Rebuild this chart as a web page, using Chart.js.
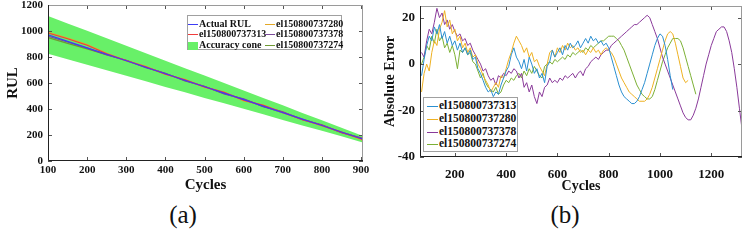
<!DOCTYPE html>
<html>
<head>
<meta charset="utf-8">
<script src="https://cdn.jsdelivr.net/npm/chart.js@4.4.1/dist/chart.umd.min.js"></script>
<style>
  body { margin: 0; width: 747px; height: 243px; background: #fff; position: relative; overflow: hidden;
         font-family: "Liberation Serif", "DejaVu Serif", serif; }
  canvas { position: absolute; top: 0; }
  #rulChart { left: 0; }
  #errChart { left: 375px; }
  .legend { position: absolute; background: #fff; border: 1px solid #a0a0a0; font-weight: bold; color: #111; box-sizing: border-box; }
  .legend .item { position: absolute; white-space: nowrap; }
  .legend .sample { display: inline-block; vertical-align: middle; margin-right: 1px; }
  #rulLegend { left: 187px; top: 15px; width: 155px; height: 35px; font-size: 10px; line-height: 11px; }
  #errLegend { left: 423px; top: 97px; width: 95px; height: 55px; font-size: 11.5px; line-height: 13px; }
  .caption { position: absolute; top: 202px; width: 40px; text-align: center; font-size: 25px; line-height: 25px; color: #111; }
</style>
</head>
<body>
<canvas id="rulChart" width="375" height="200"></canvas>
<canvas id="errChart" width="372" height="200"></canvas>
<div id="rulLegend" class="legend"></div>
<div id="errLegend" class="legend"></div>
<div class="caption" style="left:163px">(a)</div>
<div class="caption" style="left:545px">(b)</div>
<script>
// ---------- panel (a): RUL vs cycles ----------
const rulCycles = [100, 150, 200, 250, 300, 350, 400, 450, 500, 550, 600, 650, 700, 750, 800, 850, 900, 905];
const actualRul = [970, 920, 870, 821, 771, 721, 671, 621, 571, 522, 472, 422, 372, 322, 273, 223, 173, 168];
const coneUpper = [1116, 1058, 1001, 944, 887, 829, 772, 714, 657, 600, 543, 485, 428, 370, 314, 256, 199, 193];
const coneLower = [825, 782, 740, 698, 655, 613, 570, 528, 485, 444, 401, 359, 316, 274, 232, 190, 147, 143];
const rul313 = [985, 940, 890, 825, 773, 725, 668, 625, 570, 528, 468, 428, 375, 318, 275, 220, 172, 160];
const rul280 = [990, 945, 895, 828, 770, 728, 665, 628, 566, 530, 462, 430, 370, 320, 270, 225, 165, 155];
const rul378 = [960, 915, 868, 815, 775, 718, 675, 615, 575, 515, 478, 418, 378, 318, 278, 218, 178, 170];
const rul274 = [950, 905, 862, 818, 772, 722, 672, 620, 572, 520, 475, 420, 372, 322, 272, 222, 175, 165];
const rulTicksX = [100, 200, 300, 400, 500, 600, 700, 800, 900];
const rulTicksY = [0, 200, 400, 600, 800, 1000, 1200];

// ---------- panel (b): absolute error vs cycles ----------
const errCycles = [70, 80, 90, 100, 110, 120, 130, 140, 150, 160,
  170, 180, 190, 200, 210, 220, 230, 240, 250, 260,
  270, 280, 290, 300, 310, 320, 330, 340, 350, 360,
  370, 380, 390, 400, 410, 420, 430, 440, 450, 460,
  470, 480, 490, 500, 510, 520, 530, 540, 550, 560,
  570, 580, 590, 600, 610, 620, 630, 640, 650, 660,
  670, 680, 690, 700, 710, 720, 730, 740, 750, 760,
  770, 780, 790, 800, 810, 820, 830, 840, 850, 860,
  870, 880, 890, 900, 910, 920, 930, 940, 950, 960,
  970, 980, 990, 1000, 1010, 1020, 1030, 1040, 1050, 1060,
  1070, 1080, 1090, 1100, 1110, 1120, 1130, 1140, 1150, 1160,
  1170, 1180, 1190, 1200, 1210, 1220, 1230, 1240, 1250, 1260,
  1270, 1280, 1290, 1300, 1310, 1320];
const err313 = [-5, 2, 8, 12, 10, 16, 13, 17, 11, 14,
  9, 12, 8, 10, 6, 9, 5, 7, 4, 6,
  2, 3, -2, -4, -7, -10, -12, -11, -14, -12,
  -13, -9, -6, -3, -1, 4, 7, 3, 1, -2,
  2, -3, 3, 0, -4, -2, -6, -4, -8, -1,
  1, 6, 3, 5, 7, 4, 8, 6, 9, 7,
  8, 10, 7, 9, 11, 9, 12, 10, 11, 9,
  10, 8, 9, 7, 3, -1, -5, -9, -12, -14,
  -15, -16, -17, -17, -16, -14, -11, -8, -4, 0,
  4, 8, 11, 13, 12, 8, 2, -5, -11];
const err280 = [-12, -4, 0, -3, 5, 10, 8, 15, 18, 23,
  16, 19, 13, 15, 10, 12, 7, 9, 5, 7,
  3, 4, 0, -2, -5, -7, -9, -12, -10, -8,
  -10, -5, -6, -2, 2, 5, 9, 12, 10, 8,
  5, 7, 3, 5, 1, 2, -1, -3, -5, 0,
  5, 6, 3, 7, 5, 8, 6, 9, 7, 8,
  6, 7, 5, 6, 4, 6, 5, 7, 5, 6,
  4, 6, 7, 6, 5, 3, 0, -3, -6, -8,
  -10, -12, -13, -14, -15, -16, -16, -16, -15, -13,
  -10, -6, -2, 2, 6, 10, 13, 14, 13, 9,
  4, -1, -6, -8, -7];
const err378 = [5, 3, 10, 15, 13, 18, 24, 20, 22, 17,
  19, 15, 17, 14, 12, 13, 10, 11, 8, 9,
  6, 4, 2, 0, -3, -2, -5, -7, -6, -9,
  -5, -6, -4, -5, -3, -4, -2, -3, -6, -4,
  -10, -8, -12, -9, -14, -17, -12, -14, -10, -9,
  -6, -8, -7, -8, -6, -7, -5, -6, -5, -4,
  -6, -4, -3, -5, -2, -1, 1, 2, 3, 2,
  4, 5, 6, 6, 8, 9, 10, 11, 12, 13,
  14, 15, 16, 17, 17, 18, 19, 20, 21, 20,
  17, 14, 11, 7, 3, 0, -3, -6, -9, -12,
  -15, -18, -21, -23, -24, -24, -22, -19, -15, -10,
  -5, 0, 4, 8, 11, 14, 15, 16, 16, 14,
  10, 5, -2, -10, -19, -28];
const err274 = [0, 3, 8, 6, 12, 9, 15, 10, 12, 7,
  9, 5, 8, 4, -2, 6, 5, 7, 4, 5,
  1, 0, -3, -6, -4, -8, -10, -11, -12, -10,
  -13, -12, -9, -7, -8, -6, -7, -5, -4, -6,
  -3, -5, -2, -4, -1, -3, -5, -6, -1, 0,
  1, 0, 2, 1, 2, 3, 2, 4, 3, 5,
  4, 5, 6, 5, 7, 6, 8, 7, 8, 9,
  10, 10, 11, 12, 12, 12, 11, 10, 8, 6,
  3, 0, -3, -6, -9, -11, -13, -14, -15, -15,
  -14, -11, -7, -3, 1, 4, 7, 9, 11, 11,
  11, 10, 7, 3, -1, -5, -9, -13];
const errTicksX = [200, 400, 600, 800, 1000, 1200];
const errTicksY = [-40, -20, 0, 20];

const serif = '"Liberation Serif", "DejaVu Serif", serif';
Chart.defaults.font.family = serif;
Chart.defaults.color = '#111';

// pair x and y arrays into points
function pts(xs, ys) {
  return ys.map((y, i) => ({ x: xs[i], y: y }));
}

// box around the plot + short inward ticks on all four sides
const framePlugin = {
  id: 'frame',
  afterDatasetsDraw(chart, args, opts) {
    const { ctx, chartArea: a, scales } = chart;
    const L = opts.tickLen || 4;
    ctx.save();
    ctx.lineWidth = 1;
    ctx.strokeStyle = '#555';
    ctx.beginPath();
    scales.x.ticks.forEach(t => {
      const px = Math.round(scales.x.getPixelForValue(t.value)) + 0.5;
      ctx.moveTo(px, a.bottom); ctx.lineTo(px, a.bottom - L);
      ctx.moveTo(px, a.top); ctx.lineTo(px, a.top + L);
    });
    scales.y.ticks.forEach(t => {
      const py = Math.round(scales.y.getPixelForValue(t.value)) + 0.5;
      ctx.moveTo(a.left, py); ctx.lineTo(a.left + L, py);
      ctx.moveTo(a.right, py); ctx.lineTo(a.right - L, py);
    });
    ctx.stroke();
    ctx.strokeStyle = '#9a9a9a';
    ctx.strokeRect(Math.round(a.left) + 0.5, Math.round(a.top) + 0.5, Math.round(a.width) - 1, Math.round(a.height) - 1);
    ctx.strokeStyle = '#222';
    ctx.beginPath();
    ctx.moveTo(Math.round(a.left) + 0.5, Math.round(a.top));
    ctx.lineTo(Math.round(a.left) + 0.5, Math.round(a.bottom) - 0.5);
    ctx.lineTo(Math.round(a.right), Math.round(a.bottom) - 0.5);
    ctx.stroke();
    ctx.restore();
  }
};

function axis(opts) {
  return {
    type: 'linear',
    min: opts.min,
    max: opts.max,
    afterBuildTicks: s => { s.ticks = opts.ticks.map(v => ({ value: v })); },
    afterFit: s => {
      if (opts.width) s.width = opts.width;
      if (opts.height) s.height = opts.height;
      // let the layout padding alone decide where the plot box sits
      s.paddingTop = 0; s.paddingBottom = 0; s.paddingLeft = 0; s.paddingRight = 0;
    },
    grid: { display: false, drawTicks: false },
    border: { display: false },
    ticks: { padding: opts.pad, autoSkip: false, maxRotation: 0, color: '#111',
             callback: v => String(v),
             font: { family: serif, size: opts.tickSize, weight: 'bold' } },
    title: { display: true, text: opts.title, color: '#111',
             font: { family: serif, size: opts.titleSize, weight: 'bold' }, padding: opts.titlePad }
  };
}

function line(label, xs, ys, color, width) {
  return { label: label, data: pts(xs, ys), borderColor: color, backgroundColor: color,
           borderWidth: width, pointRadius: 0, fill: false, tension: 0 };
}

// ---------- chart (a) ----------
const rulSets = [
  line('Actual RUL', rulCycles, actualRul, '#3d3df5', 1.2),
  line('el150800737313', rulCycles, rul313, '#f03c3c', 1.2),
  line('el150800737280', rulCycles, rul280, '#e3a826', 1.2),
  line('el150800737378', rulCycles, rul378, '#7a4a9a', 1.2),
  line('el150800737274', rulCycles, rul274, '#6f9a32', 1.2),
  { label: 'Accuracy cone', data: pts(rulCycles, coneUpper), borderWidth: 0, pointRadius: 0,
    backgroundColor: 'rgb(104,240,104)', borderColor: 'rgb(104,240,104)', fill: '+1' },
  { label: 'cone lower', data: pts(rulCycles, coneLower), borderWidth: 0, pointRadius: 0,
    backgroundColor: 'rgb(104,240,104)', borderColor: 'rgb(104,240,104)', fill: false }
];

new Chart(document.getElementById('rulChart'), {
  type: 'line',
  data: { datasets: rulSets },
  options: {
    responsive: false, animation: false, devicePixelRatio: 1,
    layout: { padding: { left: 0, top: 5, right: 12, bottom: 0 } },
    plugins: { legend: { display: false }, tooltip: { enabled: false }, frame: { tickLen: 4 } },
    scales: {
      x: axis({ min: 100, max: 905, ticks: rulTicksX, height: 39, pad: 3, tickSize: 11,
                title: 'Cycles', titleSize: 15, titlePad: { top: 0, bottom: 6 } }),
      y: axis({ min: 0, max: 1200, ticks: rulTicksY, width: 48, pad: 5, tickSize: 11,
                title: 'RUL', titleSize: 15, titlePad: { top: 4, bottom: 0 } })
    }
  },
  plugins: [framePlugin]
});

// ---------- chart (b) ----------
const errSets = [
  line('el150800737313', errCycles, err313, '#2a8fd0', 1),
  line('el150800737280', errCycles, err280, '#eeb122', 1),
  line('el150800737378', errCycles, err378, '#8a3a9a', 1),
  line('el150800737274', errCycles, err274, '#7cb035', 1)
];

new Chart(document.getElementById('errChart'), {
  type: 'line',
  data: { datasets: errSets },
  options: {
    responsive: false, animation: false, devicePixelRatio: 1,
    layout: { padding: { left: 0, top: 6, right: 5, bottom: 0 } },
    plugins: { legend: { display: false }, tooltip: { enabled: false }, frame: { tickLen: 4 } },
    scales: {
      x: axis({ min: 64, max: 1320, ticks: errTicksX, height: 43, pad: 10, tickSize: 13,
                title: 'Cycles', titleSize: 14, titlePad: { top: 0, bottom: 5 } }),
      y: axis({ min: -40, max: 25, ticks: errTicksY, width: 45, pad: 5, tickSize: 13,
                title: 'Absolute Error', titleSize: 14, titlePad: { top: 7, bottom: 0 } })
    }
  },
  plugins: [framePlugin]
});

// ---------- legends (HTML, inside the plot boxes) ----------
function buildLegend(el, items, cols, rows, sampleW, boxH) {
  items.forEach(it => {
    const d = document.createElement('div');
    d.className = 'item';
    d.style.left = cols[it.col] + 'px';
    d.style.top = rows[it.row] + 'px';
    const s = document.createElement('span');
    s.className = 'sample';
    s.style.width = sampleW + 'px';
    if (it.box) {
      s.style.height = boxH + 'px';
      s.style.background = it.color;
    } else {
      s.style.height = '0';
      s.style.borderTop = '1px solid ' + it.color;
    }
    d.appendChild(s);
    d.appendChild(document.createTextNode(it.label));
    el.appendChild(d);
  });
}

buildLegend(document.getElementById('rulLegend'), [
  { label: rulSets[0].label, color: rulSets[0].borderColor, col: 0, row: 0 },
  { label: rulSets[1].label, color: rulSets[1].borderColor, col: 0, row: 1 },
  { label: rulSets[5].label, color: rulSets[5].backgroundColor, col: 0, row: 2, box: true },
  { label: rulSets[2].label, color: rulSets[2].borderColor, col: 1, row: 0 },
  { label: rulSets[3].label, color: rulSets[3].borderColor, col: 1, row: 1 },
  { label: rulSets[4].label, color: rulSets[4].borderColor, col: 1, row: 2 }
], [0, 77], [2, 12, 23], 10, 8);

buildLegend(document.getElementById('errLegend'),
  errSets.map((ds, i) => ({ label: ds.label, color: ds.borderColor, col: 0, row: i })),
  [3], [1, 14, 27, 39], 11, 0);
</script>
</body>
</html>
